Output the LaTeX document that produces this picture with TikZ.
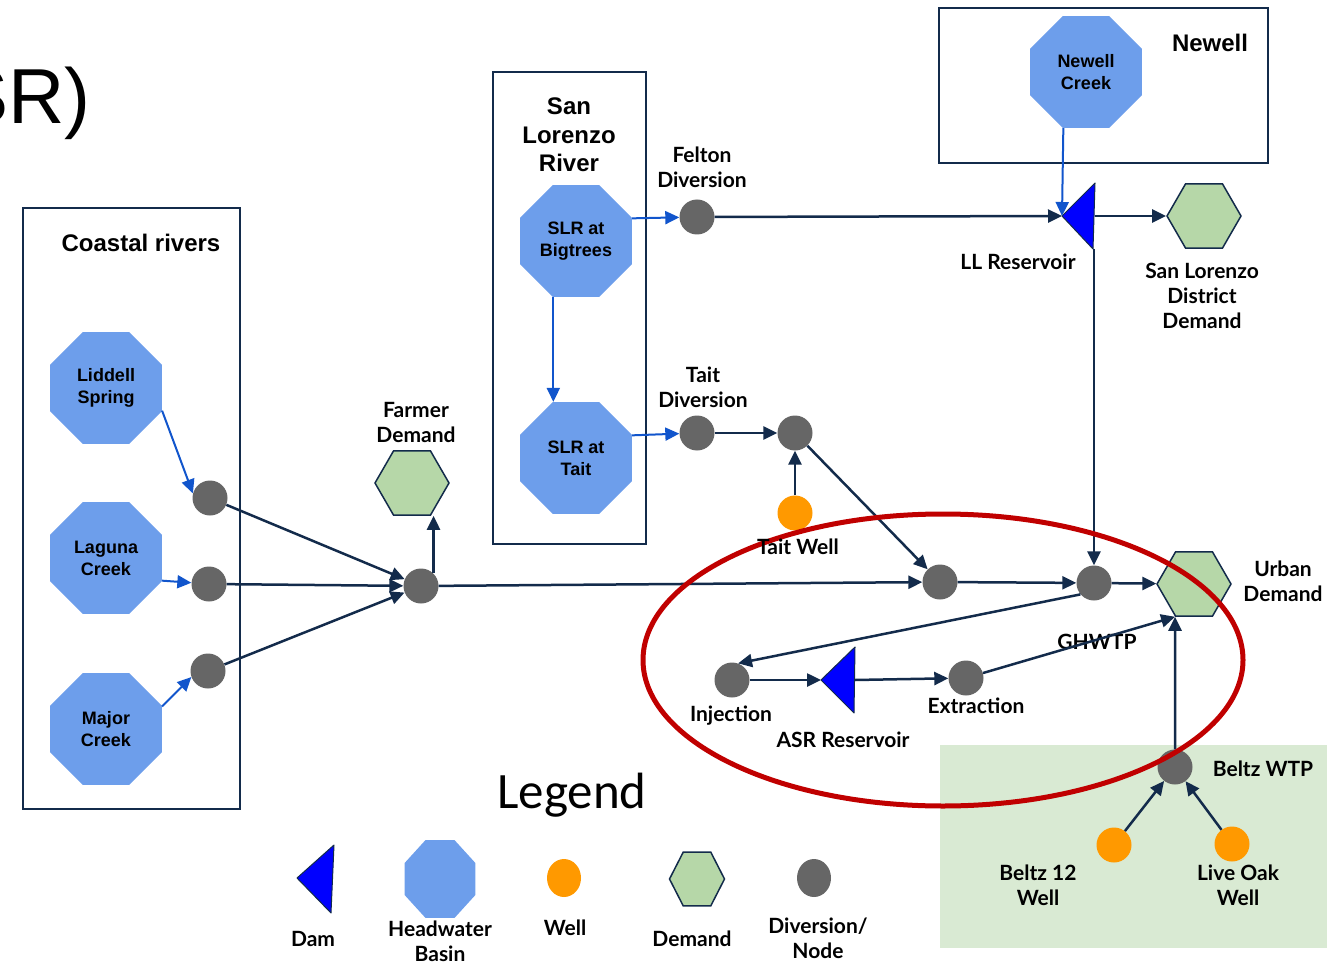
\documentclass[tikz,border=0pt]{standalone}
\usepackage{fontspec}
\setmainfont{Lato}
\newfontfamily\arialfont{Liberation Sans}
\newfontfamily\legendfont{Carlito}
\usetikzlibrary{shapes.geometric,arrows.meta,calc}

\definecolor{navy}{HTML}{132B4B}
\definecolor{srcblue}{HTML}{1155CC}
\definecolor{hwblue}{HTML}{6D9EEB}
\definecolor{demgreen}{HTML}{B6D7A8}
\definecolor{divgray}{HTML}{666666}
\definecolor{wellorange}{HTML}{FF9900}
\definecolor{damblue}{HTML}{0000FF}
\definecolor{wtpgreen}{HTML}{D9EAD3}
\definecolor{asrred}{HTML}{C00000}

\begin{document}
\begin{tikzpicture}[x=1pt,y=-1pt,
  lbl/.style={font=\bfseries\fontsize{21}{25}\selectfont,align=center,inner sep=0pt},
  ttl/.style={font=\arialfont\bfseries\fontsize{24}{28.5}\selectfont,align=center,inner sep=0pt},
  hw/.style={regular polygon,regular polygon sides=8,minimum size=121pt,inner sep=0pt,
    fill=hwblue,font=\arialfont\bfseries\fontsize{18}{22}\selectfont,align=center},
  div/.style={circle,fill=divgray,minimum size=35pt,inner sep=0pt},
  wellnode/.style={circle,fill=wellorange,minimum size=35pt,inner sep=0pt},
  demand/.style={regular polygon,regular polygon sides=6,minimum size=74pt,inner sep=0pt,
    fill=demgreen,draw=navy,line width=1.5pt},
  damshape/.style={fill=damblue,draw=navy,line width=1pt,line join=round},
  flow/.style={draw=navy,line width=2.5pt,-{Triangle[length=14pt,width=13pt]}},
  src/.style={draw=srcblue,line width=2pt,-{Triangle[length=14pt,width=13pt]}},
  frame/.style={draw=navy,line width=1.8pt}]

\useasboundingbox (0,0) rectangle (1327,965);

% ---------- group frames ----------
\fill[wtpgreen] (940,745) rectangle (1327,948);
\draw[frame] (23,208) rectangle (240,809);
\draw[frame] (493,72) rectangle (646,544);
\draw[frame] (939,8) rectangle (1268,163);

% ---------- titles ----------
\node[font=\arialfont\fontsize{78}{88}\selectfont,anchor=base east,inner sep=0pt] (head) at (91,124) {SR)};
\node[ttl] (tCoast) at (141,243) {Coastal rivers};
\node[ttl] (tSLR) at (569,135) {San\\Lorenzo\\River};
\node[ttl] (tNewell) at (1210,43) {Newell};

% ---------- labels ----------
\node[lbl] (lFelton) at (702,167) {Felton\\Diversion};
\node[lbl] (lTaitDiv) at (703,387) {Tait\\Diversion};
\node[lbl] (lFarmer) at (416,422) {Farmer\\Demand};
\node[lbl] (lLL) at (1018,262) {LL Reservoir};
\node[lbl] (lSLD) at (1202,296) {San Lorenzo\\District\\Demand};
\node[lbl] (lUrban) at (1283,581) {Urban\\Demand};
\node[lbl] (lGH) at (1097,642) {GHWTP};
\node[lbl] (lInj) at (731,716) {Injection};
\node[lbl] (lExt) at (976,706) {Extraction};
\node[lbl] (lASR) at (843,740) {ASR Reservoir};
\node[lbl] (lBeltz) at (1263,769) {Beltz WTP};
\node[lbl] (lB12) at (1038,885) {Beltz 12\\Well};
\node[lbl] (lLO) at (1238,885) {Live Oak\\Well};

% ---------- headwater basins ----------
\node[hw] (lid) at (106,388) {Liddell\\Spring};
\node[hw] (lag) at (106,558) {Laguna\\Creek};
\node[hw] (maj) at (106,729) {Major\\Creek};
\node[hw] (big) at (576,241) {SLR at\\Bigtrees};
\node[hw] (tait) at (576,458) {SLR at\\Tait};
\node[hw] (nc) at (1086,72) {Newell\\Creek};

% ---------- diversions / nodes ----------
\node[div] (c1) at (210,498) {};
\node[div] (c2) at (209,584) {};
\node[div] (c3) at (208,671) {};
\node[div] (f) at (421,586) {};
\node[div] (fel) at (697,217) {};
\node[div] (td) at (697,433) {};
\node[div] (n2) at (795,433) {};
\node[div] (n1) at (940,582) {};
\node[div] (n3) at (1094,583) {};
\node[div] (inj) at (732,680) {};
\node[div] (ext) at (966,678) {};
\node[div] (bwtp) at (1175,767) {};

% ---------- wells ----------
\node[wellnode] (tw) at (795,513) {};
\node[wellnode] (b12) at (1114,845) {};
\node[wellnode] (lo) at (1232,844) {};

% ---------- demands ----------
\node[demand] (farmer) at (412,483) {};
\node[demand] (sld) at (1204,216) {};
\node[demand] (urb) at (1194,584) {};

% ---------- dams ----------
\coordinate (LLtip) at (1062,216);
\coordinate (LLbase) at (1095,216);
\coordinate (LLfoot) at (1094,249);
\filldraw[damshape] (LLtip) -- (1095,183) -- (1093,249) -- cycle;
\coordinate (ASRtip) at (821,680);
\coordinate (ASRbase) at (855,680);
\filldraw[damshape] (ASRtip) -- (855,647) -- (854,713) -- cycle;

% ---------- source inflows ----------
\draw[src] (lid.-22.5) -- (c1.165);
\draw[src] (lag.-22.5) -- (c2);
\draw[src] (maj.22.5) -- (c3.200);
\draw[src] (big.22.5) -- (fel);
\draw[src] (big.-112.5) -- (big.-112.5 |- tait.north);
\draw[src] (tait.22.5) -- (td);
\draw[src] (nc.-112.5) -- (LLtip);

% ---------- flows ----------
\draw[flow] (c1) -- (f);
\draw[flow] (c2) -- (f);
\draw[flow] (c3) -- (f);
\draw[flow] (f.45) -- (f.45 |- farmer.south);
\draw[flow] (f) -- (n1);
\draw[flow] (fel) -- (LLtip);
\draw[flow] (LLbase) -- (sld);
\draw[flow] (LLfoot) -- (n3);
\draw[flow] (td) -- (n2);
\draw[flow] (tw) -- (n2);
\draw[flow] (n2) -- (n1);
\draw[flow] (n1) -- (n3);
\draw[flow] (n3) -- (urb);
\draw[flow] (n3.-140) -- (inj.70);
\draw[flow] (inj) -- (ASRtip);
\draw[flow] (ASRbase) -- (ext);
\draw[flow] (ext) -- (urb.-120);
\draw[flow] (bwtp) -- (urb.-120);
\draw[flow] (b12) -- (bwtp);
\draw[flow] (lo) -- (bwtp);

% ---------- ASR focus ring ----------
\draw[asrred,line width=5pt] (943,660) ellipse [x radius=300, y radius=146];
\node[lbl] (lTW) at (798,547) {Tait Well};

% ---------- legend ----------
\node[font=\legendfont\fontsize{51}{60}\selectfont,inner sep=0pt] (legend) at (572,795) {Legend};
\coordinate (lgDam) at (297,878);
\filldraw[damshape] (lgDam) -- (334,845) -- (331,913) -- cycle;
\node[hw,minimum size=84pt,xscale=0.91,transform shape] (lgHW) at (440,879) {};
\node[ellipse,fill=wellorange,minimum width=34pt,minimum height=38pt,inner sep=0pt] (lgWell) at (564,878) {};
\node[demand,minimum size=55pt,yscale=1.13,transform shape] (lgDem) at (697,879) {};
\node[ellipse,fill=divgray,minimum width=34pt,minimum height=38pt,inner sep=0pt] (lgDiv) at (814,878) {};
\node[lbl] (tDam) at (313,939) {Dam};
\node[lbl] (tHW) at (440,941) {Headwater\\Basin};
\node[lbl] (tWell) at (565,928) {Well};
\node[lbl] (tDem) at (692,939) {Demand};
\node[lbl] (tDiv) at (818,938) {Diversion/\\Node};

\end{tikzpicture}
\end{document}
